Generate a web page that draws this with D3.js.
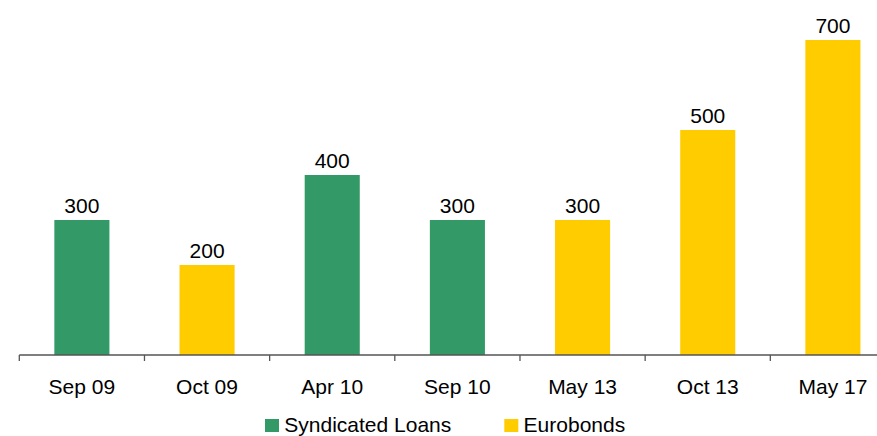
<!DOCTYPE html>
<html>
<head>
<meta charset="utf-8">
<script src="https://cdn.jsdelivr.net/npm/d3@7"></script>
<style>
  body { margin: 0; background: #fff; }
  svg { display: block; font-family: "Liberation Sans", Arial, sans-serif; }
</style>
</head>
<body>
<svg id="chart"></svg>
<script>
let categories = ["Sep 09","Oct 09","Apr 10","Sep 10","May 13","Oct 13","May 17"];
let values = [300,200,400,300,300,500,700];
let types = ["Syndicated Loans","Eurobonds","Syndicated Loans","Syndicated Loans","Eurobonds","Eurobonds","Eurobonds"];
let seriesNames = ["Syndicated Loans","Eurobonds"];
let seriesColors = ["#339966","#ffcc00"];

width = 877;
height = 436;
margin = ({top: 40, right: -19, bottom: 81, left: 19.3})

svg = d3.select('#chart').attr('width',width).attr('height',height)

color = d3.scaleOrdinal().domain(seriesNames).range(seriesColors)

x = d3.scaleBand()
    .domain(categories)
    .range([margin.left, margin.left + 7*125.17])
    .paddingInner(0.56)
    .paddingOuter(0.28);

y = d3.scaleLinear()
    .domain([0, 700])
    .range([height - margin.bottom, margin.top]);

data = categories.map((c,i)=>({cat:c, value:values[i], type:types[i]}));

// bars
svg.append("g")
    .selectAll("rect")
    .data(data)
    .join("rect")
    .attr("x", d => x(d.cat))
    .attr("y", d => y(d.value))
    .attr("width", x.bandwidth())
    .attr("height", d => y(0) - y(d.value))
    .attr("fill", d => color(d.type));

// value labels
svg.append("g")
    .selectAll("text")
    .data(data)
    .join("text")
    .attr("x", d => x(d.cat) + x.bandwidth()/2)
    .attr("y", d => y(d.value) - 7)
    .attr("text-anchor", "middle")
    .attr("font-size", 21)
    .attr("fill", "#000")
    .text(d => d.value);

// x axis with ticks between categories
xg = svg.append("g")
    .attr("transform", `translate(0,${y(0)})`);
xg.append("line")
    .attr("x1", margin.left).attr("x2", margin.left + 7*125.17)
    .attr("stroke", "#555").attr("stroke-width", 1.3);
let step = x.step();
xg.selectAll("line.tick")
    .data(d3.range(categories.length + 1))
    .join("line")
    .attr("class","tick")
    .attr("x1", i => margin.left + i*step)
    .attr("x2", i => margin.left + i*step)
    .attr("y1", 0).attr("y2", 6)
    .attr("stroke", "#555").attr("stroke-width", 1.3);
xg.selectAll("text")
    .data(categories)
    .join("text")
    .attr("x", d => x(d) + x.bandwidth()/2)
    .attr("y", 39)
    .attr("text-anchor", "middle")
    .attr("font-size", 21)
    .attr("fill", "#000")
    .text(d => d);

// legend
let legendX = [265, 504.3];
lg = svg.append("g")
    .selectAll("g")
    .data(seriesNames)
    .join("g")
    .attr("transform", (d,i) => `translate(${legendX[i]},419)`);
lg.append("rect")
    .attr("width", 14).attr("height", 13)
    .attr("fill", d => color(d));
lg.append("text")
    .attr("x", 19.3)
    .attr("y", 12.7)
    .attr("font-size", 21)
    .attr("fill", "#000")
    .text(d => d);
</script>
</body>
</html>
